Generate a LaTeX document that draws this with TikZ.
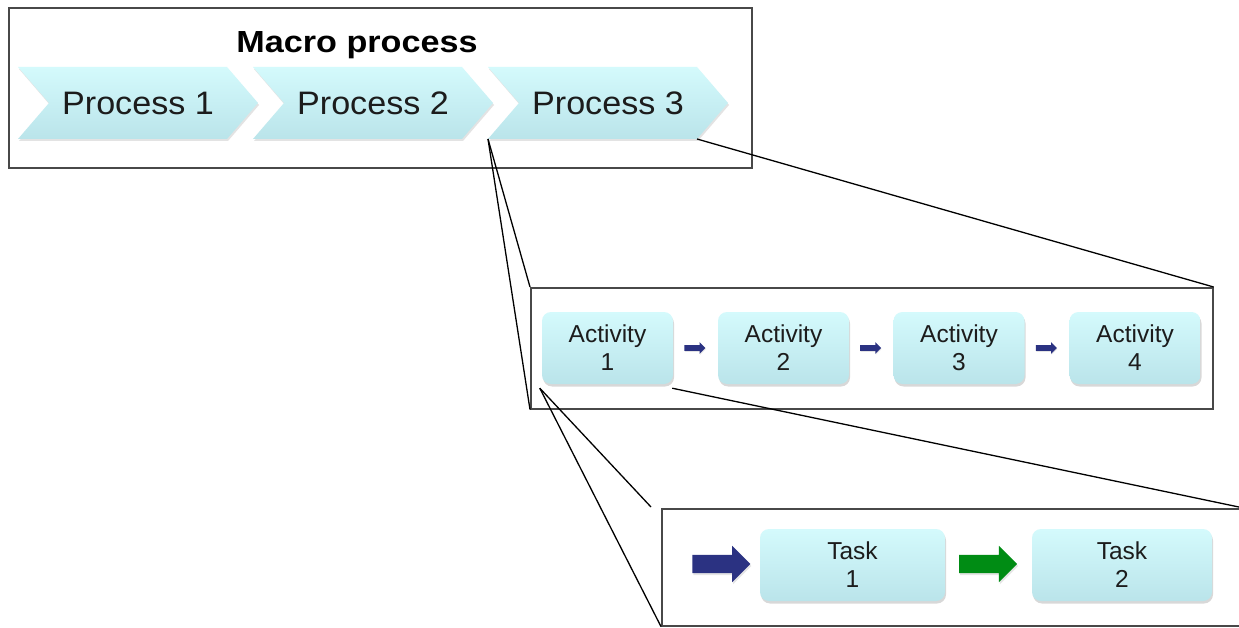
\documentclass[tikz,border=0pt]{standalone}
\usepackage{fontspec}
\setmainfont{Liberation Sans}
\newfontfamily\titlefont[FakeStretch=1.12]{Liberation Sans Bold}
\newfontfamily\procfont[FakeStretch=1.05]{Liberation Sans}
\usetikzlibrary{shapes.arrows,shadows,calc}

\definecolor{boxtop}{RGB}{212,250,252}
\definecolor{boxbot}{RGB}{186,228,234}
\definecolor{panelline}{RGB}{72,72,72}
\definecolor{navy}{RGB}{43,50,130}
\definecolor{leaf}{RGB}{0,140,20}
\definecolor{ink}{RGB}{28,28,28}

\tikzset{
  panel/.style={draw=panelline, line width=1.6pt, fill=white, inner sep=0pt,
    anchor=north west,
    drop shadow={opacity=0.18, shadow xshift=1pt, shadow yshift=-1.5pt}},
  chev/.style={top color=boxtop, bottom color=boxbot,
    drop shadow={opacity=0.22, shadow xshift=1pt, shadow yshift=-2pt}},
  proclabel/.style={text=ink, font=\procfont\fontsize{32.5}{36}\selectfont},
  card/.style={rounded corners=9pt, top color=boxtop, bottom color=boxbot,
    inner sep=0pt, align=center, text=ink,
    font=\fontsize{24.5}{28}\selectfont,
    drop shadow={opacity=0.3, shadow xshift=1pt, shadow yshift=-2.5pt}},
  smallarrow/.style={single arrow, fill=navy, draw=none,
    inner xsep=0pt, inner ysep=2.6pt,
    minimum height=21pt, single arrow head extend=3pt,
    drop shadow={opacity=0.2, shadow xshift=0.5pt, shadow yshift=-1pt}},
  bigarrow/.style={single arrow, draw=none,
    inner xsep=0pt, inner ysep=9pt,
    minimum height=58pt, single arrow head extend=9pt,
    drop shadow={opacity=0.2, shadow xshift=1pt, shadow yshift=-2pt}},
  link/.style={draw=black, line width=1.3pt}
}

\begin{document}
\begin{tikzpicture}[x=1pt, y=-1pt]
\useasboundingbox (0,0) rectangle (1239,628);
\clip (0,0) rectangle (1239,628);

% ---- macro process panel ----
\node[panel, minimum width=743pt, minimum height=160pt] (macro) at (8,7) {};
\node[font=\titlefont\fontsize{30.5}{36}\selectfont, text=black] (title) at (357,45) {Macro process};

\foreach \i/\x in {1/18,2/253,3/488} {
  \path[chev] (\x,67) -- ++(209,0) -- ++(31,36) -- ++(-31,36) coordinate (c\i br)
    -- ++(-209,0) coordinate (c\i bl) -- ++(31,-36) -- cycle;
  \node[proclabel] (p\i) at (\x+120,103) {Process \i};
}

% ---- activity panel ----
\node[panel, minimum width=682pt, minimum height=121pt] (abox) at (530,287) {};
\node[card, minimum width=131pt, minimum height=72pt] (a1) at (607.5,348) {Activity\\1};
\node[card, minimum width=131pt, minimum height=72pt] (a2) at (783.5,348) {Activity\\2};
\node[card, minimum width=131pt, minimum height=72pt] (a3) at (959,348) {Activity\\3};
\node[card, minimum width=131pt, minimum height=72pt] (a4) at (1135,348) {Activity\\4};
\node[smallarrow] (s1) at ($(a1.east)!0.5!(a2.west)+(-2,0)$) {};
\node[smallarrow] (s2) at ($(a2.east)!0.5!(a3.west)+(-2,0)$) {};
\node[smallarrow] (s3) at ($(a3.east)!0.5!(a4.west)+(-2,0)$) {};

% ---- task panel ----
\node[panel, minimum width=581pt, minimum height=117pt] (tbox) at (661,508) {};
\node[card, minimum width=185pt, minimum height=72pt] (t1) at (852.5,565) {Task\\1};
\node[card, minimum width=180pt, minimum height=72pt] (t2) at (1122,565) {Task\\2};
\node[bigarrow, fill=navy] (b1) at ($(t1.west)+(-43,-1)$) {};
\node[bigarrow, fill=leaf] (b2) at ($(t1.east)!0.5!(t2.west)+(-5,-1)$) {};

% ---- zoom lines ----
\coordinate (a1bl) at ($(a1.south west)+(-2,4)$);
\coordinate (a1br) at ($(a1.south east)+(-1,4)$);
\coordinate (tnear) at ($(tbox.north west)+(-10,-1)$);
\draw[link] (c3bl) -- (abox.north west);
\draw[link] (c3bl) -- (abox.south west);
\draw[link] (c3br) -- (abox.north east);
\draw[link] (a1bl) -- (tnear);
\draw[link] (a1bl) -- (tbox.south west);
\draw[link] (a1br) -- (tbox.north east);
\end{tikzpicture}
\end{document}
